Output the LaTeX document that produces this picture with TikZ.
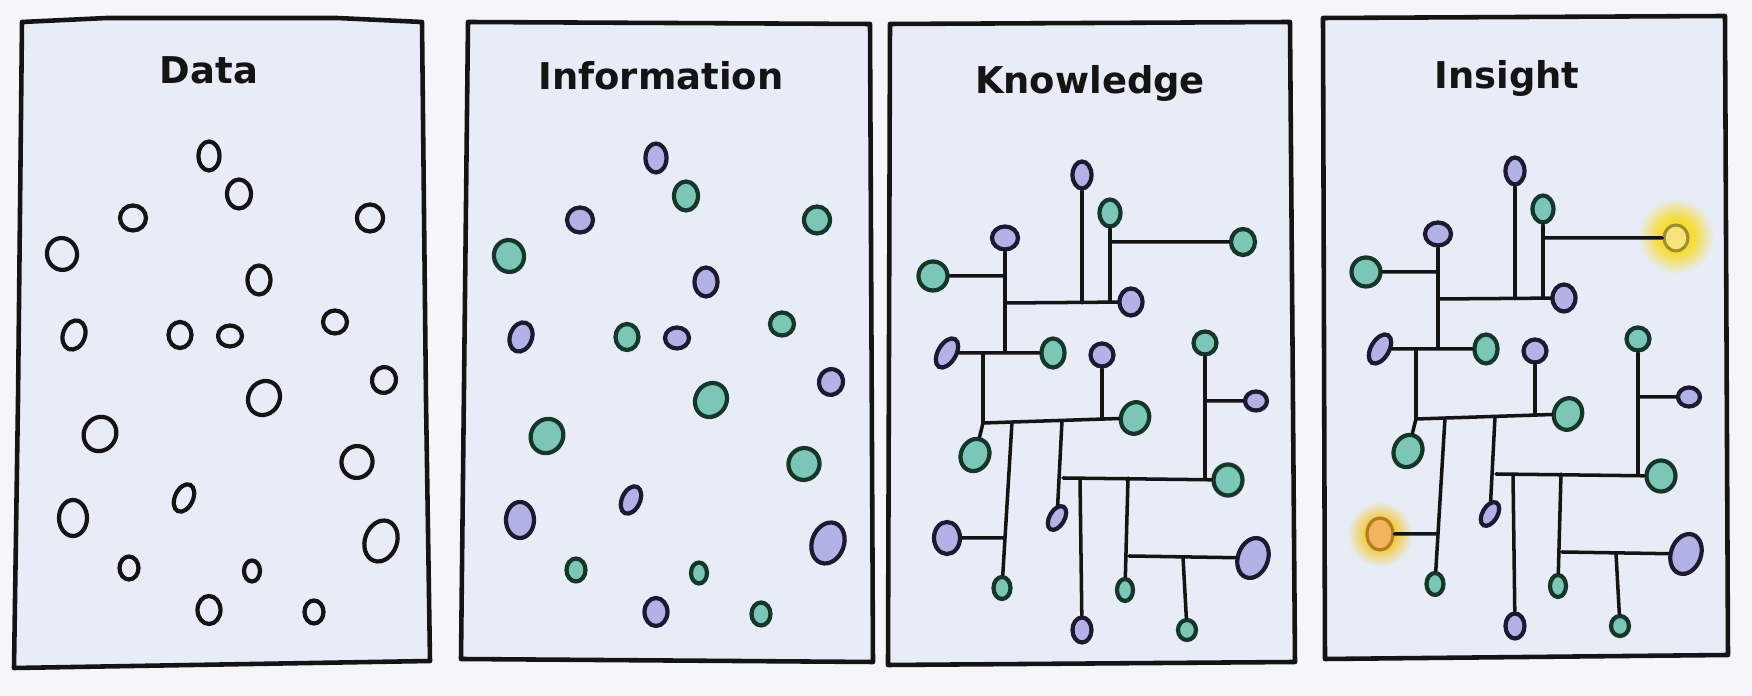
\documentclass[tikz,border=0pt]{standalone}
\usepackage{fontspec}
\setsansfont{DejaVu Sans}
\usepackage{xcolor}
\usepackage{tikz}
\usetikzlibrary{shapes.geometric}

\definecolor{pagebg}{HTML}{F5F6FA}
\definecolor{panelbg}{HTML}{E8ECF7}
\definecolor{ink}{HTML}{141414}
\definecolor{lilac}{HTML}{B2B2E6}
\definecolor{lilacline}{HTML}{1B1A30}
\definecolor{sea}{HTML}{7CC6B8}
\definecolor{sealine}{HTML}{16362A}
\definecolor{sun}{HTML}{F7E27C}
\definecolor{sunline}{HTML}{A08E2C}
\definecolor{amber}{HTML}{F2B45C}
\definecolor{amberline}{HTML}{B47C1C}
\definecolor{glowsun}{HTML}{F6DC3E}
\definecolor{glowamber}{HTML}{F2CC48}

\pgfdeclareradialshading{sunglow}{\pgfpointorigin}{color(0bp)=(glowsun); color(12bp)=(glowsun); color(25bp)=(panelbg); color(50bp)=(panelbg)}
\pgfdeclareradialshading{amberglow}{\pgfpointorigin}{color(0bp)=(glowamber); color(12bp)=(glowamber); color(25bp)=(panelbg); color(50bp)=(panelbg)}

\newcommand\scatterdots{%
  \foreach \n/\x/\y/\w/\h/\rot/\cl in {1/209/156/2.1/2.9/0/P, 2/239/194/2.4/2.9/0/T,
    3/133/218/2.6/2.5/0/P, 4/370/218/2.6/2.7/0/T, 5/62/254/3.0/3.2/15/T,
    6/259/280/2.3/2.9/0/P, 7/74/335/2.2/3.0/-20/P, 8/180/335/2.3/2.6/0/T,
    9/230/336/2.4/2.1/0/P, 10/335/322/2.4/2.3/0/T, 11/384/380/2.4/2.6/-15/P,
    12/264/398/3.1/3.5/-30/T, 13/100/434/3.2/3.5/-30/T, 14/357/462/3.1/3.2/-20/T,
    15/184/498/1.8/2.9/-25/P, 16/73/518/2.8/3.6/0/P, 17/381/541/3.2/4.2/-20/P,
    18/129/568/1.9/2.3/0/T, 19/252/571/1.6/2.1/0/T, 20/209/610/2.3/2.8/0/P,
    21/314/612/1.9/2.3/0/T}
  \node[dot\cl, minimum width=\w mm, minimum height=\h mm, rotate=\rot] (d\n) at (\x,\y) {};
}

\newcommand\network{%
  \foreach \n/\x/\y/\w/\h/\rot/\cl in {1/1082/175/1.9/2.7/0/P, 2/1110/213/2.1/2.7/0/T,
    3/1005/238/2.6/2.3/0/P, 4/1243/242/2.4/2.6/0/hubA, 5/933/276/2.9/2.9/0/T,
    6/1131/302/2.3/2.7/0/P, 7/947/353/1.8/3.2/-30/P, 8/1053/353/2.3/2.9/0/T,
    9/1102/355/2.3/2.3/0/P, 10/1205/343/2.3/2.3/0/T, 11/1256/401/2.2/1.9/0/P,
    12/1135/418/2.8/3.2/-20/T, 13/975/455/2.8/3.3/-25/T, 14/1228/480/2.9/3.1/0/T,
    15/1057/518/1.5/2.6/-30/P, 16/947/538/2.6/3.2/0/hubB, 17/1253/558/3.0/4.1/-20/P,
    18/1002/588/1.7/2.2/0/T, 19/1125/590/1.6/2.2/0/T, 20/1082/630/1.9/2.5/0/P,
    21/1187/630/1.8/2.0/0/T}
  \node[dot\cl, minimum width=\w mm, minimum height=\h mm, rotate=\rot] (k\n) at (\x,\y) {};
  \foreach \n/\x/\y in {1/1082/303, 2/1110/302, 3/1110/242, 4/1005/303, 5/1005/276,
    6/1005/353, 7/983/353, 8/983/423, 9/1102/419, 10/1012/422, 11/1004/538,
    12/1062/421, 13/1063/478, 14/1205/401, 15/1205/478, 16/1080/478, 17/1128/478,
    18/1129/556, 19/1183/557}
  \coordinate (j\n) at (\x,\y);
  \draw[wire] (k1) -- (j1) (k2) -- (j2) (j3) -- (k4) (k3) -- (j6) (k5) -- (j5)
    (j4) -- (k6) (k7) -- (k8) (j7) -- (j8) -- (k12) (k9) -- (j9) (j8) -- (k13)
    (j10) -- (k18) (k16) -- (j11) (j12) -- (k15) (j13) -- (k14) (k10) -- (j15)
    (j14) -- (k11) (j16) -- (k20) (j17) -- (k19) (j18) -- (k17) (j19) -- (k21);
}

\begin{document}
\begin{tikzpicture}[x=0.1mm, y=-0.1mm,
    panel/.style={fill=panelbg, draw=ink, line width=1.3pt, line join=round},
    title/.style={font=\sffamily\bfseries\fontsize{10.5}{12}\selectfont, anchor=base, inner sep=0pt, text=ink},
    dot/.style={ellipse, inner sep=0pt, line width=1.2pt},
    dotplain/.style={dot, fill=panelbg, draw=ink},
    dotP/.style={dot, fill=lilac, draw=lilacline},
    dotT/.style={dot, fill=sea, draw=sealine},
    dotY/.style={dot, fill=sun, draw=sunline, line width=0.9pt},
    dotO/.style={dot, fill=amber, draw=amberline, line width=0.9pt},
    dothubA/.style={dotT}, dothubB/.style={dotP},
    wire/.style={draw=ink, line width=1pt, line cap=round},
    glow/.style={circle, inner sep=0pt, draw=none, shade, minimum size=#1}]
  \useasboundingbox (0,0) rectangle (1752,696);
  \fill[pagebg] (0,0) rectangle (1752,696);

  \filldraw[panel] (22,22) -- (107,18) -- (337,18) -- (422,22) -- (426,400) -- (430,661) -- (14,668) -- (18,400) -- cycle;
  \filldraw[panel] (468,22) -- (870,24) -- (873,662) -- (461,659) -- cycle;
  \filldraw[panel] (890,24) -- (1290,22) -- (1295,662) -- (888,665) -- cycle;
  \filldraw[panel] (1323,18) -- (1725,16) -- (1728,655) -- (1325,659) -- cycle;

  \node[title] (tdata) at (209,84) {Data};
  \node[title] (tinfo) at (661,90) {Information};
  \node[title] (tknow) at (1090,94) {Knowledge};
  \node[title] (tins) at (1507,89) {Insight};

  \begin{scope}[name prefix=d-, dotP/.style={dotplain}, dotT/.style={dotplain}]
    \scatterdots
  \end{scope}
  \begin{scope}[name prefix=f-, xshift=44.7mm, yshift=-0.2mm]
    \scatterdots
  \end{scope}
  \begin{scope}[name prefix=k-]
    \network
  \end{scope}
  \begin{scope}[name prefix=i-, xshift=43.3mm, yshift=0.4mm,
      dothubA/.style={dotY}, dothubB/.style={dotO}]
    \node[glow=7.6mm, shading=sunglow] (g1) at (1243,240) {};
    \node[glow=6.6mm, shading=amberglow] (g2) at (947,538) {};
    \network
  \end{scope}
\end{tikzpicture}
\end{document}
